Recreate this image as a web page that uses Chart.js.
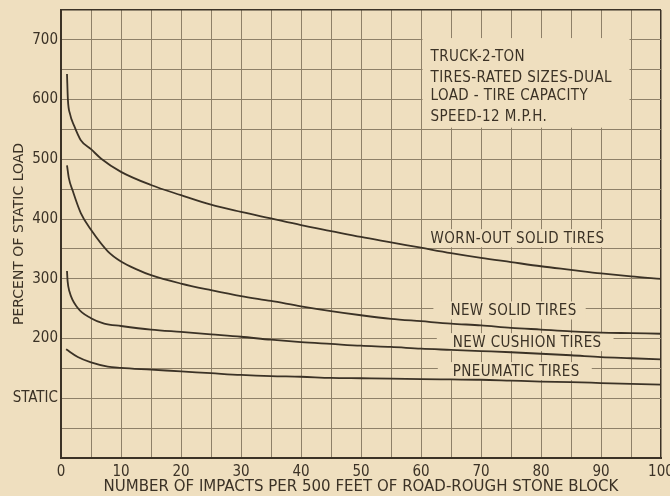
<!DOCTYPE html>
<html>
<head>
<meta charset="utf-8">
<script src="https://cdn.jsdelivr.net/npm/chart.js@4.4.0/dist/chart.umd.min.js"></script>
<style>
  html, body { margin: 0; padding: 0; background: #efdfbf; }
  #wrap { width: 670px; height: 496px; }
</style>
</head>
<body>
<div id="wrap"><canvas id="chart"></canvas></div>
<script>
// impacts per 500 ft (x) and percent of static load (y)
const wornOutX = [1, 1.15, 1.5, 2.2, 3.3, 5, 6.7, 10, 15, 20, 25, 30, 35, 40, 45, 50, 55, 60, 65, 70, 75, 80, 85, 90, 95, 100];
const wornOutY = [643, 600, 576, 556, 532, 517, 501, 479, 457, 440, 424, 412, 401, 390, 380, 370, 361, 352, 343, 335, 328, 321, 315, 309, 304, 300];

const newSolidX = [1, 1.3, 2, 3.3, 5, 7.8, 10, 12.8, 15, 20, 25, 30, 35, 40, 45, 50, 55, 60, 65, 70, 75, 80, 85, 90, 95, 100];
const newSolidY = [490, 469, 446, 410, 382, 346, 329, 315, 306, 292, 281, 271, 263, 254, 246, 239, 233, 229, 225, 222, 218, 215, 212, 210, 209, 208];

const cushionX = [1, 1.1, 1.4, 2.8, 5, 7.2, 10, 15, 20, 25, 30, 35, 40, 45, 50, 55, 60, 65, 70, 75, 80, 85, 90, 95, 100];
const cushionY = [313, 296, 279, 251, 234, 225, 221, 215, 211, 207, 203, 198, 194, 191, 188, 186, 183, 181, 179, 177, 174.5, 172, 169, 167, 165];

const pneumaticX = [0.85, 2.8, 5, 7.8, 10, 15, 20, 25, 30, 35, 40, 45, 50, 55, 60, 65, 70, 75, 80, 85, 90, 95, 100];
const pneumaticY = [182, 169, 160, 153, 151, 148, 145, 142, 139, 137, 136, 134, 133.5, 133, 132, 131.5, 131, 129.5, 128, 127, 125.5, 124, 123];

const seriesNames = ['WORN-OUT SOLID TIRES', 'NEW SOLID TIRES', 'NEW CUSHION TIRES', 'PNEUMATIC TIRES'];

const xTickValues = [0, 10, 20, 30, 40, 50, 60, 70, 80, 90, 100];
const xTickLabels = ['0', '10', '20', '30', '40', '50', '60', '70', '80', '90', '100'];
const yTickValues = [100, 200, 300, 400, 500, 600, 700];
const yTickLabels = ['STATIC', '200', '300', '400', '500', '600', '700'];

const noteLines = ['TRUCK-2-TON', 'TIRES-RATED SIZES-DUAL', 'LOAD - TIRE CAPACITY', 'SPEED-12 M.P.H.'];

const PAPER = '#efdfbf';
const INK = '#3b3226';
const GRID = '#8e8068';
const FONT = '"DejaVu Sans Condensed", "DejaVu Sans", sans-serif';
const WIDE_FONT = '"DejaVu Sans", sans-serif';

function toPoints(xs, ys) {
    return xs.map((x, i) => ({ x: x, y: ys[i] }));
}

function curve(label, xs, ys) {
    return {
        label: label,
        data: toPoints(xs, ys),
        borderColor: INK,
        borderWidth: 1.8,
        pointRadius: 0,
        fill: false,
        cubicInterpolationMode: 'monotone'
    };
}

// paper-coloured patches behind the lettering, then the lettering itself
const lettering = {
    id: 'lettering',
    beforeDatasetsDraw(chart) {
        const ctx = chart.ctx;
        const xs = chart.scales.x;
        const ys = chart.scales.y;
        const px = v => xs.getPixelForValue(v);
        const py = v => ys.getPixelForValue(v);

        ctx.save();
        ctx.fillStyle = PAPER;
        // blank panel for the test conditions
        ctx.fillRect(px(60) + 1.5, py(703), px(95) - px(60) - 3, py(553) - py(703));

        // where each curve name sits: [left x, centre y, gap before, gap after]
        const spots = [[61.6, 368, 4, 4], [64.9, 247, 17, 9], [65.3, 194, 16, 12], [65.3, 145.5, 15, 12]];
        ctx.font = '15px ' + FONT;
        ctx.letterSpacing = '0.4px';
        ctx.textBaseline = 'middle';
        ctx.textAlign = 'left';
        seriesNames.forEach((name, i) => {
            const [lx, ly, g0, g1] = spots[i];
            const w = ctx.measureText(name).width;
            ctx.fillStyle = PAPER;
            ctx.fillRect(px(lx) - g0, py(ly) - 9, w + g0 + g1, 18);
            ctx.fillStyle = INK;
            ctx.fillText(name, px(lx), py(ly) + 1);
        });

        const noteY = [673, 638, 608, 573];
        noteLines.forEach((line, i) => {
            ctx.fillText(line, px(61.6), py(noteY[i]) + 1);
        });
        ctx.restore();
    }
};

const ctx = document.getElementById('chart').getContext('2d');
new Chart(ctx, {
    type: 'line',
    data: {
        datasets: [
            curve(seriesNames[0], wornOutX, wornOutY),
            curve(seriesNames[1], newSolidX, newSolidY),
            curve(seriesNames[2], cushionX, cushionY),
            curve(seriesNames[3], pneumaticX, pneumaticY)
        ]
    },
    options: {
        responsive: true,
        maintainAspectRatio: false,
        animation: false,
        layout: { padding: { top: 10, right: 9, left: 0, bottom: 0 } },
        plugins: {
            legend: { display: false },
            tooltip: { enabled: false }
        },
        scales: {
            x: {
                type: 'linear',
                min: 0,
                max: 100,
                afterFit: s => {
                    s.height = 38;
                    s.paddingLeft = 0;
                    s.paddingRight = 0;
                },
                border: { color: INK, width: 2 },
                grid: {
                    drawTicks: false,
                    color: c => c.tick && c.tick.value === 100 ? INK : GRID,
                    lineWidth: c => c.tick && c.tick.value === 100 ? 1.5 : 1
                },
                ticks: {
                    stepSize: 5,
                    autoSkip: false,
                    maxRotation: 0,
                    padding: 5,
                    color: INK,
                    font: { family: FONT, size: 15 },
                    callback: v => {
                        const i = xTickValues.indexOf(v);
                        return i >= 0 ? xTickLabels[i] : '';
                    }
                },
                title: {
                    display: true,
                    text: 'NUMBER OF IMPACTS PER 500 FEET OF ROAD-ROUGH STONE BLOCK',
                    color: INK,
                    font: { family: WIDE_FONT, size: 15 },
                    padding: { top: 0, bottom: 0 }
                }
            },
            y: {
                type: 'linear',
                min: 0,
                max: 750,
                afterFit: s => {
                    s.width = 61;
                    s.paddingTop = 0;
                    s.paddingBottom = 0;
                },
                border: { color: INK, width: 2 },
                grid: {
                    drawTicks: false,
                    color: c => c.tick && c.tick.value === 750 ? INK : GRID,
                    lineWidth: c => c.tick && c.tick.value === 750 ? 1.5 : 1
                },
                ticks: {
                    stepSize: 50,
                    autoSkip: false,
                    padding: 3,
                    color: INK,
                    font: { family: FONT, size: 15 },
                    callback: v => {
                        const i = yTickValues.indexOf(v);
                        return i >= 0 ? yTickLabels[i] : '';
                    }
                },
                title: {
                    display: true,
                    text: 'PERCENT OF STATIC LOAD',
                    color: INK,
                    font: { family: WIDE_FONT, size: 14 },
                    padding: { top: 11, bottom: 0 }
                }
            }
        }
    },
    plugins: [lettering]
});
</script>
</body>
</html>
